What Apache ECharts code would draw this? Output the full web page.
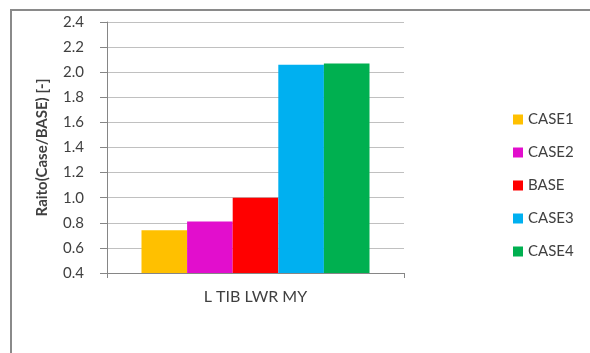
<!DOCTYPE html>
<html>
<head>
<meta charset="utf-8">
<script src="https://cdn.jsdelivr.net/npm/echarts@6/dist/echarts.min.js"></script>
<style>
  html, body { margin: 0; padding: 0; background: #fff; }
  #main { width: 590px; height: 353px; }
</style>
</head>
<body>
<div id="main"></div>
<script>
// data
const categories = ['L TIB LWR MY']
const seriesNames = ['CASE1', 'CASE2', 'BASE', 'CASE3', 'CASE4']
const seriesValues = [[0.74], [0.81], [1.0], [2.06], [2.07]]
const seriesColors = ['#ffc000', '#e20ecd', '#ff0000', '#00b0f0', '#00b050']

const myChart = echarts.init(document.getElementById('main'))

const font = 'Lato, "Open Sans", sans-serif'

const option = {
  animation: false,
  textStyle: { fontFamily: font },
  grid: { left: 107, top: 22, right: 186, bottom: 80 },
  legend: {
    orient: 'vertical',
    left: 513,
    top: 112,
    padding: 0,
    itemWidth: 10,
    itemHeight: 10,
    itemGap: 18,
    icon: 'rect',
    textStyle: { fontSize: 15, lineHeight: 15, color: '#404040', fontFamily: font },
    data: seriesNames
  },
  xAxis: {
    type: 'category',
    data: categories,
    axisLine: { lineStyle: { color: '#868686', width: 1 } },
    axisTick: { show: true, length: 5, lineStyle: { color: '#868686' } },
    axisLabel: { color: '#404040', fontSize: 16, margin: 16 }
  },
  yAxis: {
    type: 'value',
    min: 0.4,
    max: 2.4,
    interval: 0.2,
    name: 'Raito(Case/BASE) [-]',
    nameLocation: 'middle',
    nameGap: 57,
    nameTextStyle: { color: '#404040', fontSize: 15, fontWeight: 'bold' },
    axisLine: { show: true, lineStyle: { color: '#868686', width: 1 } },
    axisTick: { show: true, length: 7, lineStyle: { color: '#868686' } },
    axisLabel: {
      color: '#404040',
      fontSize: 15,
      margin: 23,
      formatter: function (v) { return v.toFixed(1) }
    },
    splitLine: { lineStyle: { color: '#c0c0c0', width: 1 } }
  },
  series: seriesNames.map(function (name, i) {
    return {
      name: name,
      type: 'bar',
      data: seriesValues[i],
      barWidth: 45.6,
      barGap: '0%',
      itemStyle: { color: seriesColors[i] }
    }
  }),
  graphic: [
    { type: 'line', shape: { x1: 10, y1: 10, x2: 590, y2: 10 }, style: { stroke: '#8a8a8a', lineWidth: 2 } },
    { type: 'line', shape: { x1: 11, y1: 9, x2: 11, y2: 353 }, style: { stroke: '#8a8a8a', lineWidth: 2 } }
  ]
}

myChart.setOption(option)
</script>
</body>
</html>
